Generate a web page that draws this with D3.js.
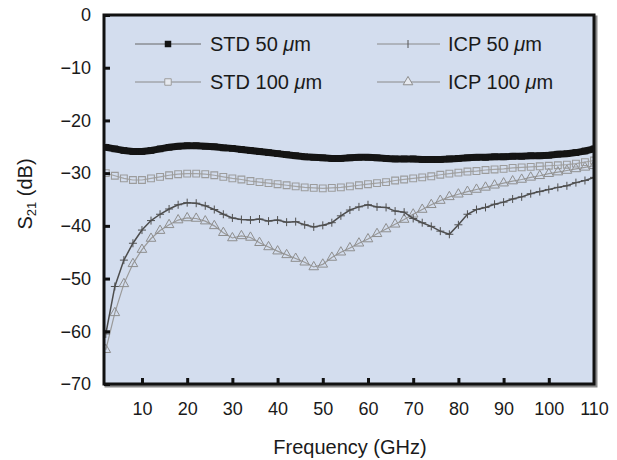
<!DOCTYPE html>
<html>
<head>
	<meta charset="UTF-8" />
	<title>S21 vs frequency</title>
	<script src="https://d3js.org/d3.v7.min.js"></script>
	<style>
		body { margin: 0; background: #fff; }
		text { font-family: "Liberation Sans", Arial, sans-serif; fill: #1a1a1a; }
	</style>
</head>
<body>
	<svg id="chart" style="width:617px; height:460px"></svg>

	<script type="text/javascript">

	// frequency grid (GHz)
	var freq = [2,4,6,8,10,12,14,16,18,20,22,24,26,28,30,32,34,36,38,40,42,44,46,48,50,
		52,54,56,58,60,62,64,66,68,70,72,74,76,78,80,82,84,86,88,90,92,94,96,98,100,
		102,104,106,108,110]

	// S21 (dB)
	var std50 = [-25.1,-25.4,-25.7,-25.9,-25.9,-25.7,-25.4,-25.1,-24.9,-24.8,-24.8,-24.9,-25.0,-25.2,-25.3,
		-25.5,-25.7,-25.9,-26.1,-26.3,-26.5,-26.7,-26.9,-27.0,-27.1,-27.2,-27.2,-27.1,-27.0,-27.0,
		-27.1,-27.2,-27.3,-27.3,-27.3,-27.4,-27.4,-27.4,-27.3,-27.2,-27.1,-27.0,-27.0,-26.9,-26.9,
		-26.8,-26.8,-26.7,-26.7,-26.6,-26.4,-26.3,-26.1,-25.8,-25.4]
	var std100 = [-30.0,-30.5,-31.0,-31.3,-31.3,-31.0,-30.7,-30.4,-30.2,-30.1,-30.1,-30.2,-30.4,-30.7,-31.0,
		-31.2,-31.5,-31.7,-31.9,-32.1,-32.3,-32.5,-32.7,-32.8,-32.9,-32.8,-32.7,-32.5,-32.3,-32.1,
		-31.9,-31.7,-31.4,-31.2,-31.0,-30.8,-30.6,-30.3,-30.1,-29.9,-29.7,-29.6,-29.4,-29.3,-29.2,
		-29.0,-28.9,-28.8,-28.7,-28.6,-28.5,-28.4,-28.2,-27.9,-27.6]
	var icp50 = [-60.5,-51.5,-46.5,-43.3,-40.8,-39.0,-37.8,-36.8,-36.0,-35.6,-35.7,-36.2,-36.9,-37.8,-38.5,
		-38.8,-38.9,-38.7,-39.1,-38.9,-39.3,-39.2,-39.8,-40.2,-39.9,-39.4,-38.1,-37.0,-36.4,-36.0,
		-36.4,-36.5,-37.2,-37.4,-38.6,-39.4,-40.1,-41.0,-41.6,-39.8,-37.8,-36.9,-36.5,-35.9,-35.5,
		-34.9,-34.5,-33.9,-33.5,-33.1,-32.7,-32.4,-31.8,-31.4,-30.8]
	var icp100 = [-63.5,-56.5,-51.0,-47.2,-44.5,-42.4,-40.9,-39.8,-38.9,-38.5,-38.6,-39.1,-40.0,-41.3,-42.3,
		-41.9,-42.2,-43.2,-44.0,-44.8,-45.5,-46.2,-46.9,-47.8,-47.3,-46.0,-45.0,-44.2,-43.3,-42.5,
		-41.5,-40.6,-39.7,-38.8,-37.8,-36.9,-36.0,-35.2,-34.5,-34.0,-33.5,-33.1,-32.7,-32.3,-31.9,
		-31.5,-31.2,-30.8,-30.5,-30.1,-29.8,-29.5,-29.2,-28.9,-28.6]

	var seriesNames = ["STD 50", "ICP 50", "STD 100", "ICP 100"]
	var xTicks = [10,20,30,40,50,60,70,80,90,100,110]
	var yTicks = [0,-10,-20,-30,-40,-50,-60,-70]

	// plot box (window.top is reserved, so p-prefixed names)
	var pLeft = 104, pRight = 594, pTop = 15, pBottom = 384

	var svg = d3.select("#chart")

	var x = d3.scaleLinear().domain([1.6, 110]).range([pLeft, pRight])
	var y = d3.scaleLinear().domain([-70, 0]).range([pBottom, pTop])

	// plot background + shadow
	svg.append("rect")
		.attr("x", pLeft + 2).attr("y", pTop + 2)
		.attr("width", pRight - pLeft).attr("height", pBottom - pTop)
		.attr("fill", "none").attr("stroke", "#8a8a8a").attr("stroke-width", 3)
	svg.append("rect")
		.attr("x", pLeft).attr("y", pTop)
		.attr("width", pRight - pLeft).attr("height", pBottom - pTop)
		.attr("fill", "#d3ddee")

	svg.append("clipPath").attr("id", "clip")
		.append("rect")
		.attr("x", pLeft).attr("y", pTop)
		.attr("width", pRight - pLeft).attr("height", pBottom - pTop)

	var plot = svg.append("g").attr("clip-path", "url(#clip)")

	var line = d3.line()
		.x((d, i) => x(freq[i]))
		.y(d => y(d))

	var cross = "M-4,0H4M0,-4V4"
	var square = d3.symbol().type(d3.symbolSquare)
	var tri = d3.symbol().type(d3.symbolTriangle).size(40)

	// ICP 100 triangles
	plot.append("path").attr("d", line(icp100))
		.attr("fill", "none").attr("stroke", "#9a9a9a").attr("stroke-width", 1.2)
	plot.append("g").selectAll("path")
		.data(icp100).enter().append("path")
		.attr("transform", (d, i) => "translate(" + x(freq[i]) + "," + y(d) + ")")
		.attr("d", tri())
		.attr("fill", "none").attr("stroke", "#8e8e8e").attr("stroke-width", 1)

	// ICP 50 crosses
	plot.append("path").attr("d", line(icp50))
		.attr("fill", "none").attr("stroke", "#4d4d4d").attr("stroke-width", 1.5)
	plot.append("g").selectAll("path")
		.data(icp50).enter().append("path")
		.attr("transform", (d, i) => "translate(" + x(freq[i]) + "," + y(d) + ")")
		.attr("d", cross)
		.attr("fill", "none").attr("stroke", "#505050").attr("stroke-width", 1)

	// STD 100 open squares
	plot.append("path").attr("d", line(std100))
		.attr("fill", "none").attr("stroke", "#a5a5a5").attr("stroke-width", 1.2)
	plot.append("g").selectAll("path")
		.data(std100).enter().append("path")
		.attr("transform", (d, i) => "translate(" + x(freq[i]) + "," + y(d) + ")")
		.attr("d", square.size(46)())
		.attr("fill", "none").attr("stroke", "#9c9c9c").attr("stroke-width", 1.1)

	// STD 50 solid squares
	plot.append("path").attr("d", line(std50))
		.attr("fill", "none").attr("stroke", "#141414").attr("stroke-width", 7)
	plot.append("g").selectAll("path")
		.data(std50).enter().append("path")
		.attr("transform", (d, i) => "translate(" + x(freq[i]) + "," + y(d) + ")")
		.attr("d", square.size(44)())
		.attr("fill", "#141414")

	// frame
	svg.append("rect")
		.attr("x", pLeft).attr("y", pTop)
		.attr("width", pRight - pLeft).attr("height", pBottom - pTop)
		.attr("fill", "none").attr("stroke", "#111").attr("stroke-width", 3)

	// axes with inward ticks
	var xAxis = svg.append("g")
		.attr("transform", "translate(0," + pBottom + ")")
		.call(d3.axisBottom(x).tickValues(xTicks).tickSizeInner(-6).tickSizeOuter(0).tickPadding(18))
	var yAxis = svg.append("g")
		.attr("transform", "translate(" + pLeft + ",0)")
		.call(d3.axisLeft(y).tickValues(yTicks).tickSizeInner(-6).tickSizeOuter(0).tickPadding(13))

	;[xAxis, yAxis].forEach(a => {
		a.select(".domain").remove()
		a.selectAll(".tick line").attr("stroke", "#111").attr("stroke-width", 3)
		a.selectAll(".tick text").style("font-size", "18px").attr("fill", "#1a1a1a")
	})
	xAxis.selectAll(".tick").filter(d => d == 110).select("line").remove()

	// axis titles
	svg.append("text")
		.attr("x", 350).attr("y", 454)
		.attr("text-anchor", "middle")
		.style("font-size", "20px")
		.text("Frequency (GHz)")

	var yt = svg.append("text")
		.attr("transform", "translate(32,194) rotate(-90)")
		.attr("text-anchor", "middle")
		.style("font-size", "20px")
	yt.append("tspan").text("S")
	yt.append("tspan").attr("dy", 4).style("font-size", "13px").text("21")
	yt.append("tspan").attr("dy", -4).text(" (dB)")

	// legend
	var legendItems = [
		{name: seriesNames[0], size: "50", lx: 135, row: 0},
		{name: seriesNames[1], size: "50", lx: 377, row: 0},
		{name: seriesNames[2], size: "100", lx: 135, row: 1},
		{name: seriesNames[3], size: "100", lx: 377, row: 1}
	]
	var rowY = [44, 82]

	var lg = svg.append("g").selectAll("g")
		.data(legendItems).enter().append("g")
		.attr("transform", d => "translate(" + d.lx + "," + rowY[d.row] + ")")

	lg.append("line")
		.attr("x1", 0).attr("x2", d => d.lx < 200 ? 66 : 63)
		.attr("stroke", d => d.name == "STD 50" ? "#666" : "#8a8a8a")
		.attr("stroke-width", 1)

	lg.each(function(d) {
		var g = d3.select(this)
		var mx = d.lx < 200 ? 33 : 31
		if (d.name == "STD 50") {
			g.append("path").attr("transform", "translate(" + mx + ",0)")
				.attr("d", square.size(42)()).attr("fill", "#141414")
		} else if (d.name == "STD 100") {
			g.append("path").attr("transform", "translate(" + mx + ",0)")
				.attr("d", square.size(42)()).attr("fill", "#e6e9ef").attr("stroke", "#9c9c9c")
		} else if (d.name == "ICP 50") {
			g.append("path").attr("transform", "translate(" + mx + ",0)")
				.attr("d", "M0,-4V4").attr("stroke", "#555")
		} else {
			g.append("path").attr("transform", "translate(" + mx + ",0)")
				.attr("d", tri()).attr("fill", "#e6e9ef").attr("stroke", "#8e8e8e")
		}
	})

	var lt = lg.append("text")
		.attr("x", d => d.lx < 200 ? 75 : 71)
		.attr("y", 7)
		.style("font-size", "20px")
	lt.append("tspan").text(d => d.name.split(" ")[0] + " " + d.size + " ")
	lt.append("tspan").style("font-style", "italic").text("\u03bc")
	lt.append("tspan").text("m")

	</script>

</body>
</html>
